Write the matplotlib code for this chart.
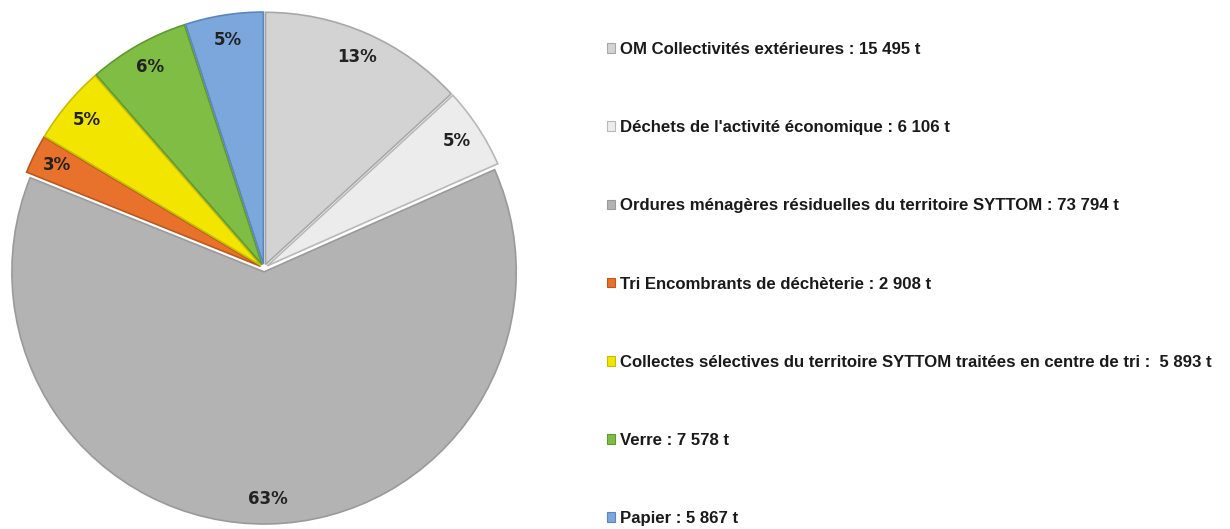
import matplotlib
matplotlib.use('Agg')
import matplotlib.pyplot as plt
from matplotlib.patches import Patch

labels = [
    "OM Collectivités extérieures : 15 495 t",
    "Déchets de l'activité économique : 6 106 t",
    "Ordures ménagères résiduelles du territoire SYTTOM : 73 794 t",
    "Tri Encombrants de déchèterie : 2 908 t",
    "Collectes sélectives du territoire SYTTOM traitées en centre de tri :  5 893 t",
    "Verre : 7 578 t",
    "Papier : 5 867 t",
]
tonnes = [15495, 6106, 73794, 2908, 5893, 7578, 5867]
# percentages as printed on the chart
pct_labels = ['13%', '5%', '63%', '3%', '5%', '6%', '5%']
colors = ['#d3d3d3', '#ececec', '#b3b3b3', '#e8712b', '#f2e500', '#7fbd44', '#7ba7dd']
edges = ['#a8a8a8', '#b8b8b8', '#9a9a9a', '#b85a20', '#c8bc00', '#5f9a30', '#5a86bb']

FONT = ['Liberation Sans Narrow', 'Liberation Sans', 'DejaVu Sans']

fig = plt.figure(figsize=(12.3, 5.29), dpi=100)
fig.patch.set_facecolor('white')

ax = fig.add_axes([8 / 1230, 5 / 529, 512 / 1230, 512 / 529])
wedges, texts = ax.pie(
    tonnes,
    colors=colors,
    startangle=90,
    counterclock=False,
    explode=[0.015] * len(tonnes),
    radius=0.985,
    labels=pct_labels,
    labeldistance=0.9,
    wedgeprops=dict(linewidth=1.2),
    textprops=dict(fontsize=12, fontweight='heavy', color='#222222',
                   family=['DejaVu Sans'], va='center'),
)
for w, ec in zip(wedges, edges):
    w.set_edgecolor(ec)
for t in texts:
    t.set_horizontalalignment('center')
ax.set_xlim(-1, 1)
ax.set_ylim(-1, 1)
ax.set_aspect('auto')
ax.axis('off')

handles = [Patch(facecolor=c, edgecolor=e, linewidth=0.8) for c, e in zip(colors, edges)]
leg = fig.legend(
    handles, labels,
    loc='upper left', bbox_to_anchor=(607 / 1230, 1 - 42 / 529),
    frameon=False,
    prop=dict(family=FONT, weight='bold', size=12.1),
    labelspacing=3.76,
    handlelength=0.5, handleheight=0.5, handletextpad=0.25,
    borderpad=0, borderaxespad=0,
)
for t in leg.get_texts():
    t.set_color('#1a1a1a')

fig.savefig('out.png', dpi=100, facecolor='white')
